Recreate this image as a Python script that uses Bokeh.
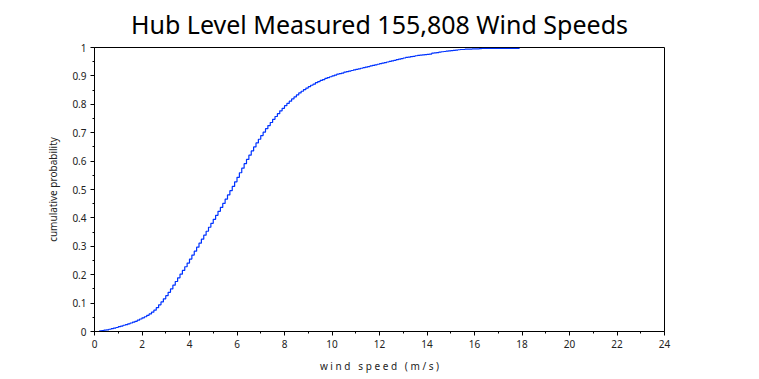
from bokeh.plotting import figure
from bokeh.embed import file_html
from bokeh.resources import INLINE
from bokeh.models import Range1d, FixedTicker

title_text = "Hub Level Measured 155,808 Wind Speeds"
x_label = "\u00a0".join(list("wind")) + "\u00a0\u00a0\u00a0" + "\u00a0".join(list("speed")) + "\u00a0\u00a0\u00a0" + "\u00a0".join(list("(m/s)"))
y_label = "cumulative probability"

x_ticks = [0, 2, 4, 6, 8, 10, 12, 14, 16, 18, 20, 22, 24]
y_ticks = [0, 0.1, 0.2, 0.3, 0.4, 0.5, 0.6, 0.7, 0.8, 0.9, 1]

# wind speed bins (m/s), 0.2 .. 17.9 in 0.1 steps
speed = [round(0.2 + 0.1 * i, 1) for i in range(178)]

cum_prob = [
    0.002, 0.003, 0.005, 0.006, 0.008, 0.010, 0.012, 0.014, 0.017,
    0.019, 0.022, 0.024, 0.027, 0.030, 0.033, 0.036, 0.040, 0.044, 0.048,
    0.052, 0.057, 0.062, 0.068, 0.075, 0.084, 0.094, 0.104, 0.115, 0.126,
    0.138, 0.150, 0.163, 0.176, 0.189, 0.202, 0.215, 0.228, 0.241, 0.255,
    0.269, 0.283, 0.297, 0.311, 0.325, 0.339, 0.353, 0.367, 0.381, 0.395,
    0.409, 0.423, 0.437, 0.451, 0.466, 0.481, 0.496, 0.511, 0.527, 0.543,
    0.559, 0.575, 0.591, 0.606, 0.621, 0.636, 0.650, 0.664, 0.677, 0.690,
    0.702, 0.714, 0.725, 0.736, 0.747, 0.757, 0.767, 0.777, 0.786, 0.795,
    0.803, 0.811, 0.819, 0.826, 0.833, 0.840, 0.846, 0.852, 0.857, 0.862,
    0.867, 0.871, 0.876, 0.880, 0.884, 0.887, 0.891, 0.894, 0.897, 0.900,
    0.903, 0.906, 0.908, 0.910, 0.913, 0.915, 0.917, 0.919, 0.921, 0.923,
    0.925, 0.927, 0.929, 0.931, 0.933, 0.935, 0.937, 0.939, 0.941, 0.943,
    0.945, 0.947, 0.949, 0.951, 0.953, 0.955, 0.957, 0.959, 0.961, 0.963,
    0.965, 0.966, 0.968, 0.969, 0.971, 0.972, 0.973, 0.974, 0.975, 0.976,
    0.977, 0.980, 0.981, 0.982, 0.984, 0.985, 0.986, 0.987, 0.988, 0.989,
    0.990, 0.991, 0.992, 0.993, 0.993, 0.994, 0.994, 0.994, 0.995, 0.995,
    0.995, 0.996, 0.997, 0.997, 0.997, 0.997, 0.997, 0.997, 0.997, 0.997,
    0.997, 0.997, 0.997, 0.997, 0.997, 0.997, 0.997, 0.997, 0.997,
]
speed_plot = speed + [speed[-1]]
prob_plot = cum_prob + [cum_prob[-1]]

p = figure(width=751, height=376, output_backend="svg", toolbar_location=None,
           x_range=Range1d(0, 24), y_range=Range1d(0, 1),
           min_border_left=94, min_border_right=87, min_border_top=47, min_border_bottom=45)

p.title.text = title_text
p.title.align = "center"
p.title.vertical_align = "top"
p.title.text_font = "Noto Sans"
p.title.text_font_size = "25px"
p.title.text_font_style = "normal"
p.title.text_color = "black"
p.title.standoff = 9

p.step(speed_plot, prob_plot, mode="after", line_color="#0033ff", line_width=1.2)

p.xgrid.visible = False
p.ygrid.visible = False
p.outline_line_color = "black"
p.outline_line_width = 1
p.background_fill_color = "white"
p.border_fill_color = "white"

for ax in (p.xaxis[0], p.yaxis[0]):
    ax.axis_line_color = "black"
    ax.major_tick_line_color = "black"
    ax.minor_tick_line_color = "black"
    ax.major_tick_out = 4
    ax.major_tick_in = 0
    ax.minor_tick_out = 2
    ax.minor_tick_in = 0
    ax.major_label_text_font = "Noto Sans"
    ax.major_label_text_font_size = "10px"
    ax.major_label_text_color = "#222222"
    ax.major_label_standoff = 4
    ax.axis_label_text_font = "Noto Sans"
    ax.axis_label_text_font_size = "10px"
    ax.axis_label_text_font_style = "normal"
    ax.axis_label_text_color = "#222222"

p.xaxis.ticker = FixedTicker(ticks=x_ticks, minor_ticks=[i for i in range(1, 24, 2)])
p.yaxis.ticker = FixedTicker(ticks=y_ticks, minor_ticks=[round(0.05 + 0.1 * i, 2) for i in range(10)])
p.xaxis.major_label_overrides = {t: str(t) for t in x_ticks}
p.yaxis.major_label_overrides = {t: ("0" if t == 0 else ("1" if t == 1 else str(t))) for t in y_ticks}
p.xaxis.axis_label = x_label
p.yaxis.axis_label = y_label
p.xaxis.axis_label_standoff = 8
p.yaxis.axis_label_standoff = 9

open("out.html", "w").write(file_html(p, INLINE))
